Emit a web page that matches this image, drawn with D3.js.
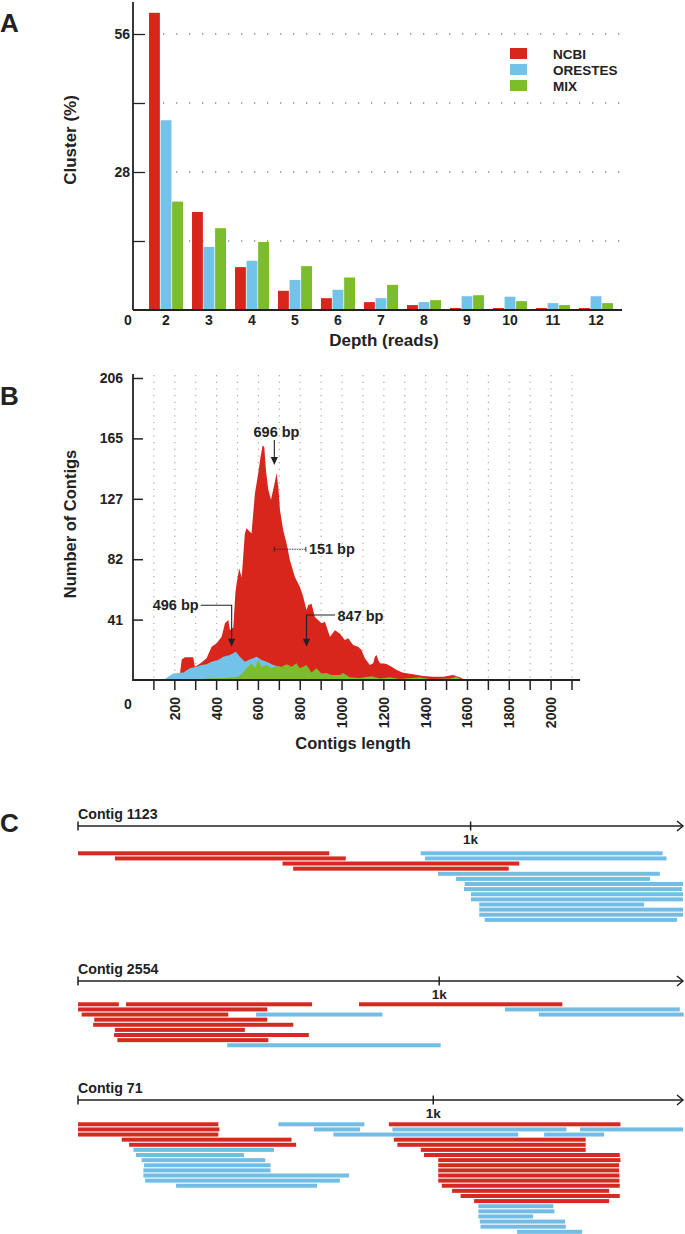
<!DOCTYPE html>
<html><head><meta charset="utf-8">
<script src="https://cdn.jsdelivr.net/npm/d3@7"></script>
<style>
body{margin:0;background:#fff}
text{font-family:"Liberation Sans",Arial,sans-serif;font-weight:bold;fill:#222}
</style>
</head><body>
<svg id="c" width="685" height="1234"></svg>
<script>
// ---------- Panel A data ----------
const depthCats = ["2","3","4","5","6","7","8","9","10","11","12"];
const seriesNames = ["NCBI","ORESTES","MIX"];
const ncbiPct    = [60.3, 19.9, 8.7, 3.9, 2.4, 1.6, 1.0, 0.4, 0.4, 0.4, 0.4];
const orestesPct = [38.5, 12.8, 10.0, 6.1, 4.1, 2.4, 1.6, 2.8, 2.7, 1.4, 2.8];
const mixPct     = [22.0, 16.6, 13.8, 8.9, 6.6, 5.1, 2.0, 3.0, 1.8, 1.0, 1.4];
const yTicksA = [14, 28, 42, 56];
const yTickLabelsA = ["", "28", "", "56"];

// ---------- Panel B data ----------
const redLen = [221,233,249,288,296,320,352,376,400,424,440,456,464,480,490,496,508,520,535,543,567,583,599,610,620,628,636,647,660,674,687,695,703,719,735,750,774,798,814,830,838,854,870,902,918,942,966,989,1013,1029,1053,1077,1093,1109,1133,1149,1157,1165,1173,1181,1213,1237,1261,1292,1340,1388,1436,1484,1531,1563,1590];
const redCount = [0,14,15.6,15.6,9,11,14.8,22.7,25,29.5,38.7,41,34,36,60,66,76,70,100,103.5,100,127,141,152,160,159,143,130,123,132,141,132,116,102,93,82,70.5,63.6,56.8,47.7,51,52,43,38.7,39.8,29.5,34,31.8,27.3,28.4,23.9,22.7,20.5,14.8,10.2,11.4,15.9,17,13.6,11.4,10.9,9.1,6.8,5,3.9,2.7,2.3,2.3,3.4,1.8,0];
const blueLen = [145,193,217,241,272,304,328,352,376,408,432,464,492,511,535,559,591,615,639,671,703,735,770,800];
const blueCount = [0,4.5,4.8,5.2,8,9,10.2,10.7,12.5,13.6,15.9,17,19.3,15.9,12.5,14,15.9,13.6,12.5,10.2,9,5.2,3,0];
const greenLen = [312,352,448,503,520,543,567,583,599,615,639,663,687,711,735,759,782,798,830,854,878,902,926,950,989,1005,1037,1085,1141,1181,1229,1276,1372,1420,1515,1547,1579];
const greenCount = [0,1,1.4,2.3,4.1,8,11.4,8,13.6,9,10.2,8,9.5,9,10.7,9,11.4,8,10.2,5.2,8,4.5,4.8,3.4,3.4,4.8,1.8,1.4,2.5,1.1,1.8,0.7,1.8,0.7,1.1,2.3,0];
const yTickLabelsB = ["41","82","127","165","206"];
const xTickLabelsB = [200,400,600,800,1000,1200,1400,1600,1800,2000];

// ---------- Panel C data: [row, start bp, end bp] ----------
const contigNames = ["Contig 1123","Contig 2554","Contig 71"];
const contigLengths = [1541, 1675, 1703];
const contig1123Ncbi = [[0,0,640],[1,94,682],[2,521,1124],[3,548,1097]];
const contig1123Orestes = [[0,873,1489],[1,884,1499],[4,917,1482],[5,963,1457],[6,985,1541],[7,983,1539],[8,1001,1541],[9,1001,1541],[10,1022,1442],[11,1022,1541],[12,1022,1541],[13,1036,1526]];
const contig2554Ncbi = [[0,0,113],[0,133,648],[0,778,1341],[1,0,524],[2,10,416],[3,45,524],[4,42,596],[5,102,462],[6,100,639],[7,109,527]];
const contig2554Orestes = [[1,1182,1666],[2,493,843],[2,1276,1677],[8,413,1004]];
const contig71Ncbi = [[0,0,395],[0,875,1527],[1,0,398],[2,0,395],[3,123,601],[3,889,1429],[4,144,614],[4,899,1429],[5,965,1429],[6,974,1525],[7,1014,1527],[8,1014,1523],[9,1014,1523],[10,1014,1524],[11,1014,1524],[12,1024,1525],[13,1053,1495],[14,1077,1525],[15,1115,1495]];
const contig71Orestes = [[0,564,806],[1,664,794],[1,885,1375],[1,1413,1703],[2,719,1239],[2,1312,1481],[5,156,552],[6,163,467],[7,179,527],[8,186,542],[9,184,542],[10,184,763],[11,189,737],[12,276,673],[16,1127,1338],[17,1127,1341],[18,1127,1281],[19,1131,1371],[20,1133,1373],[21,1236,1419]];

// ---------- styles ----------
const RED = "#d9261c", BLUE = "#73c2ea", GREEN = "#7bbd2a";
const READ_RED = "#d52a21", READ_BLUE = "#72bde6";
const AX = "#222";

const svg = d3.select("#c");

// panel letters
svg.append("text").attr("x",0).attr("y",32).attr("font-size",26).text("A");
svg.append("text").attr("x",0).attr("y",405).attr("font-size",26).text("B");
svg.append("text").attr("x",0).attr("y",832).attr("font-size",26).text("C");

// ================= Panel A =================
(function(){
  const g = svg.append("g");
  const yA = d3.scaleLinear().domain([0,56]).range([310,34]);
  const xA = d3.scaleBand().domain(depthCats).range([144.5,617.5]).paddingInner(0.21).paddingOuter(0.105);
  const xIn = d3.scaleBand().domain(seriesNames).range([0, xA.bandwidth()]).paddingInner(0.06);
  const vals = [ncbiPct, orestesPct, mixPct];
  const cols = [RED, BLUE, GREEN];

  g.selectAll("line.grid").data(yTicksA).join("line")
    .attr("x1",150).attr("x2",622).attr("y1",d=>yA(d)).attr("y2",d=>yA(d))
    .attr("stroke","#8a8a8a").attr("stroke-width",1.3).attr("stroke-dasharray","1.3,11.7");

  g.selectAll("g.grp").data(depthCats).join("g")
    .attr("transform", d=>`translate(${xA(d)},0)`)
    .selectAll("rect").data((d,i)=>seriesNames.map((s,j)=>({s, v: vals[j][i], c: cols[j]}))).join("rect")
    .attr("x", d=>xIn(d.s)).attr("y", d=>yA(d.v))
    .attr("width", xIn.bandwidth()).attr("height", d=>yA(0)-yA(d.v))
    .attr("fill", d=>d.c);

  const ax = g.append("g").attr("transform","translate(133,0)")
    .call(d3.axisLeft(yA).tickValues(yTicksA).tickFormat((d,i)=>yTickLabelsA[i]).tickSizeInner(-12).tickSizeOuter(0).tickPadding(3));
  ax.attr("font-size",14).attr("font-family",null);
  ax.select(".domain").remove();
  ax.selectAll(".tick line").attr("stroke",AX).attr("stroke-width",1.3);
  g.append("line").attr("x1",133).attr("x2",133).attr("y1",yA(0)).attr("y2",yA(62.5)).attr("stroke",AX).attr("stroke-width",1.8);
  g.append("line").attr("x1",133).attr("x2",622).attr("y1",yA(0)).attr("y2",yA(0)).attr("stroke",AX).attr("stroke-width",1.8);
  g.selectAll("text.xl").data(depthCats).join("text")
    .attr("x", d=>xA(d)+xA.bandwidth()/2).attr("y",325).attr("text-anchor","middle").attr("font-size",14).text(d=>d);
  g.append("text").attr("x",128).attr("y",325).attr("text-anchor","middle").attr("font-size",14).text("0");

  g.append("text").attr("transform","translate(76,140) rotate(-90)").attr("text-anchor","middle").attr("font-size",17).text("Cluster (%)");
  g.append("text").attr("x",384).attr("y",346).attr("text-anchor","middle").attr("font-size",17).text("Depth (reads)");

  const lg = g.selectAll("g.leg").data(seriesNames).join("g").attr("transform",(d,i)=>`translate(510,${48+i*16})`);
  lg.append("rect").attr("width",17).attr("height",11).attr("fill",(d,i)=>cols[i]);
  lg.append("text").attr("x",43).attr("y",10.5).attr("font-size",13.5).text(d=>d);
})();

// ================= Panel B =================
(function(){
  const g = svg.append("g");
  const xB = d3.scaleLinear().domain([0,2100]).range([133,572]);
  const yB = d3.scaleLinear().domain([0,206]).range([680,378]);

  g.selectAll("line.vg").data(d3.range(100,2200,100)).join("line")
    .attr("x1",d=>xB(d)).attr("x2",d=>xB(d)).attr("y1",375).attr("y2",680)
    .attr("stroke","#a8a8a8").attr("stroke-width",1.2).attr("stroke-dasharray","1.2,5.5");

  const area = (lens, counts) => d3.area().x((d,i)=>xB(lens[i])).y0(yB(0)).y1((d,i)=>yB(counts[i]))(counts);
  g.append("path").attr("d",area(redLen,redCount)).attr("fill",RED);
  g.append("path").attr("d",area(blueLen,blueCount)).attr("fill",BLUE);
  g.append("path").attr("d",area(greenLen,greenCount)).attr("fill",GREEN);

  const yTickVals = d3.range(1,6).map(i=>i*206/5);
  const ax = g.append("g").attr("transform","translate(133,0)")
    .call(d3.axisLeft(yB).tickValues(yTickVals).tickFormat((d,i)=>yTickLabelsB[i]).tickSizeInner(-10).tickSizeOuter(0).tickPadding(10));
  ax.attr("font-size",14).attr("font-family",null);
  ax.select(".domain").remove();
  ax.selectAll(".tick line").attr("stroke",AX).attr("stroke-width",1.5);
  g.append("line").attr("x1",133).attr("x2",133).attr("y1",374).attr("y2",681).attr("stroke",AX).attr("stroke-width",1.8);

  g.append("line").attr("x1",133).attr("x2",580).attr("y1",680).attr("y2",680).attr("stroke",AX).attr("stroke-width",1.8);
  g.selectAll("line.xt").data(d3.range(100,2200,100)).join("line")
    .attr("x1",d=>xB(d)).attr("x2",d=>xB(d)).attr("y1",680).attr("y2",690).attr("stroke",AX).attr("stroke-width",1.5);
  g.selectAll("text.xl").data(xTickLabelsB).join("text")
    .attr("transform",d=>`translate(${xB(d)},697) rotate(-90)`).attr("text-anchor","end").attr("dy","0.35em")
    .attr("font-size",14).text(d=>d);
  g.append("text").attr("x",128).attr("y",709).attr("text-anchor","middle").attr("font-size",14).text("0");

  g.append("text").attr("transform","translate(76,524) rotate(-90)").attr("text-anchor","middle").attr("font-size",16.5).text("Number of Contigs");
  g.append("text").attr("x",353).attr("y",749).attr("text-anchor","middle").attr("font-size",16.5).text("Contigs length");

  const arrowHead = (x,y) => `M${x},${y} L${x-3.6},${y-8} L${x+3.6},${y-8} Z`;
  const xa = xB(676);
  g.append("line").attr("x1",xa).attr("x2",xa).attr("y1",yB(163.7)).attr("y2",yB(146.7)-6).attr("stroke",AX).attr("stroke-width",1.1);
  g.append("path").attr("d",arrowHead(xa,yB(146.7))).attr("fill",AX);
  g.append("text").attr("x",276.5).attr("y",437).attr("text-anchor","middle").attr("font-size",14.5).text("696 bp");
  const xb = xB(472), yEl = yB(51);
  g.append("path").attr("d",`M${xb-31},${yEl} H${xb} V${yB(22.7)-6}`).attr("fill","none").attr("stroke",AX).attr("stroke-width",1.1);
  g.append("path").attr("d",arrowHead(xb,yB(22.7))).attr("fill",AX);
  g.append("text").attr("x",xb-33).attr("y",yEl+5).attr("text-anchor","end").attr("font-size",14.5).text("496 bp");
  const xc = xB(830), yEl2 = yB(44.3);
  g.append("path").attr("d",`M${xc+28.5},${yEl2} H${xc} V${yB(22.7)-6}`).attr("fill","none").attr("stroke",AX).attr("stroke-width",1.1);
  g.append("path").attr("d",arrowHead(xc,yB(22.7))).attr("fill",AX);
  g.append("text").attr("x",xc+31).attr("y",yEl2+6).attr("font-size",14.5).text("847 bp");
  const bx0 = xB(676), bx1 = xB(676+151), by = yB(89.2);
  g.append("line").attr("x1",bx0).attr("x2",bx1).attr("y1",by).attr("y2",by).attr("stroke",AX).attr("stroke-width",0.9).attr("stroke-dasharray","1.5,1");
  [bx0,bx1].forEach(x=>g.append("line").attr("x1",x).attr("x2",x).attr("y1",by-2.5).attr("y2",by+2.5).attr("stroke",AX).attr("stroke-width",0.9));
  g.append("text").attr("x",bx1+3).attr("y",by+5).attr("font-size",14.5).text("151 bp");
})();

// ================= Panel C =================
(function(){
  const layout = [
    {axisY:826, row0:853.3},
    {axisY:981, row0:1004.3},
    {axisY:1100, row0:1124.3}
  ];
  const ncbiReads = [contig1123Ncbi, contig2554Ncbi, contig71Ncbi];
  const orestesReads = [contig1123Orestes, contig2554Orestes, contig71Orestes];
  const rowStep = 5.12, thick = 4;
  contigNames.forEach((name, k) => {
    const L = layout[k];
    const g = svg.append("g");
    const x = d3.scaleLinear().domain([0, contigLengths[k]]).range([78, 683]);
    g.append("text").attr("x",78).attr("y",L.axisY-7).attr("font-size",14.2).text(name);
    g.append("line").attr("x1",x(0)).attr("x2",x(contigLengths[k])).attr("y1",L.axisY).attr("y2",L.axisY).attr("stroke",AX).attr("stroke-width",1.5);
    g.append("line").attr("x1",x(0)).attr("x2",x(0)).attr("y1",L.axisY-4.5).attr("y2",L.axisY+4.5).attr("stroke",AX).attr("stroke-width",1.5);
    g.append("line").attr("x1",x(1000)).attr("x2",x(1000)).attr("y1",L.axisY-4.5).attr("y2",L.axisY+4.5).attr("stroke",AX).attr("stroke-width",1.5);
    const xe = x(contigLengths[k]);
    g.append("path").attr("d",`M${xe-6},${L.axisY-5} L${xe},${L.axisY} L${xe-6},${L.axisY+5}`).attr("fill","none").attr("stroke",AX).attr("stroke-width",1.5);
    g.append("text").attr("x",x(1000)).attr("y",L.axisY+18).attr("text-anchor","middle").attr("font-size",13.5).text("1k");
    const draw = (reads, col) => g.selectAll(null).data(reads).join("rect")
      .attr("x", d=>x(d[1])).attr("width", d=>x(d[2])-x(d[1]))
      .attr("y", d=>L.row0 + d[0]*rowStep - thick/2).attr("height", thick)
      .attr("fill", col);
    draw(ncbiReads[k], READ_RED);
    draw(orestesReads[k], READ_BLUE);
  });
})();
</script>
</body></html>
